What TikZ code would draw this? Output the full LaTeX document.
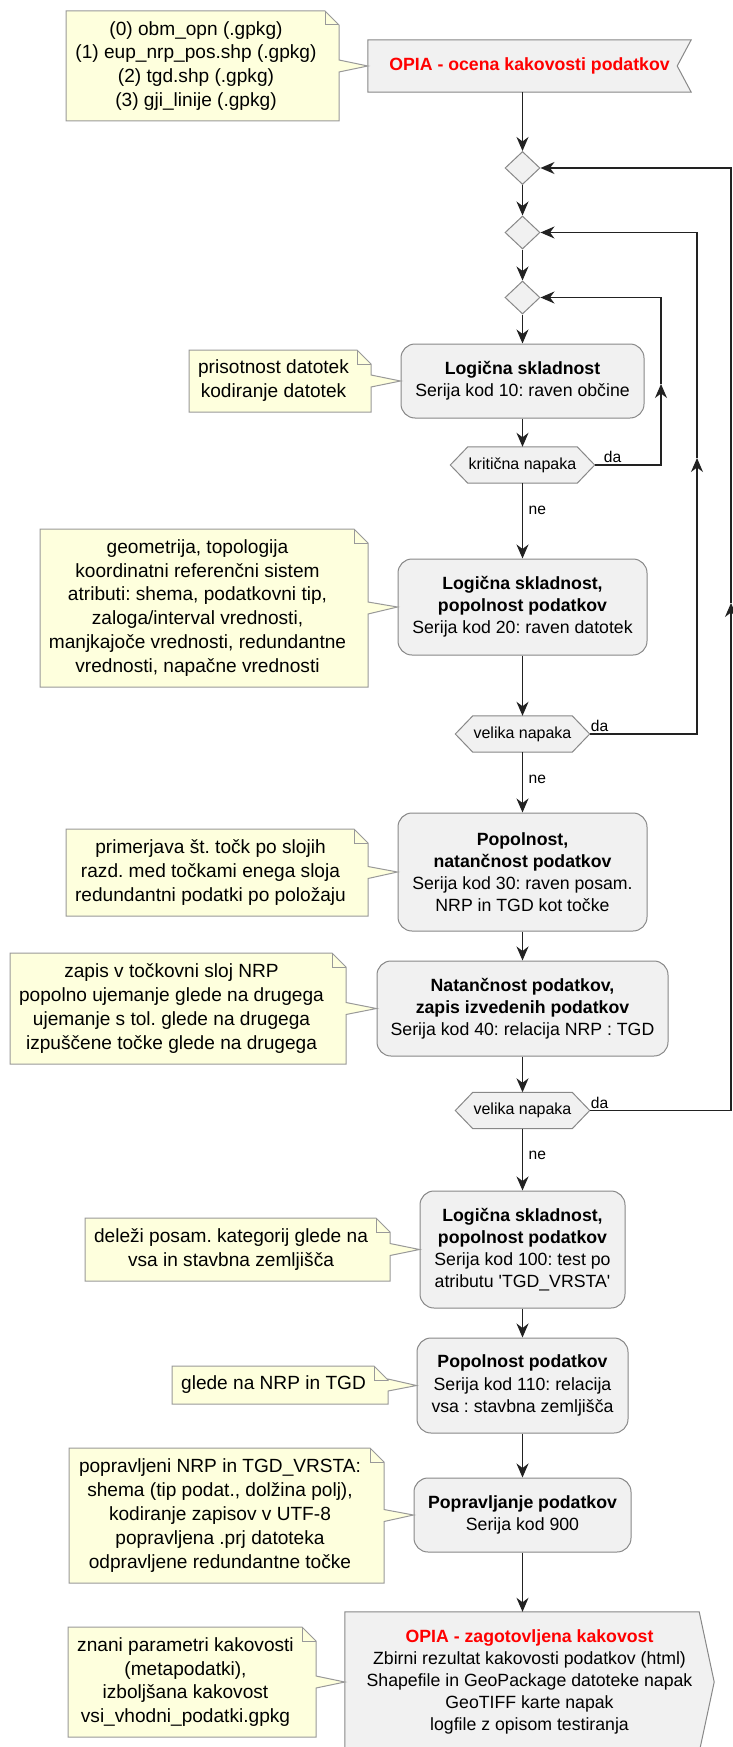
\documentclass[tikz,border=0pt]{standalone}
\usepackage{fontspec}
\setmainfont{Liberation Sans}
\usetikzlibrary{arrows.meta,shapes.geometric,backgrounds}
\frenchspacing
\definecolor{boxfill}{HTML}{F1F1F1}
\definecolor{boxline}{HTML}{888888}
\definecolor{notefill}{HTML}{FEFFDD}
\definecolor{noteline}{HTML}{999999}
\definecolor{flowc}{HTML}{222222}
\definecolor{titlered}{HTML}{FF0000}
\newcommand\fntbox{\fontsize{17.7}{22.2}\selectfont}
\newcommand\fntnote{\fontsize{19.1}{23.9}\selectfont}
\newcommand\fnthex{\fontsize{16}{19}\selectfont}
\newcommand\fntlab{\fontsize{15.6}{18}\selectfont}
\newcommand\notebox[7]{%
  \pgfmathsetmacro\ncy{(#3+#5)/2}%
  \filldraw[notestyle] (#2,#3) -- (#4-14,#3) -- (#4,#3+14) -- (#4,\ncy-6) -- (#6.west) -- (#4,\ncy+6) -- (#4,#5) -- (#2,#5) -- cycle;
  \draw[notestyle,fill=none] (#4-14,#3) -- (#4-14,#3+14) -- (#4,#3+14);
  \node[notetext] (#1) at ({(#2+#4)/2-6.5},\ncy) {#7};}
\newcommand\hexoutline[1]{%
  \filldraw[shapeline] (#1.west) -- ([xshift=17.5pt]#1.north west) -- ([xshift=-17.5pt]#1.north east) -- (#1.east) -- ([xshift=-17.5pt]#1.south east) -- ([xshift=17.5pt]#1.south west) -- cycle;}
\begin{document}
\begin{tikzpicture}[x=1pt,y=-1pt,
  shapeline/.style={draw=boxline, fill=boxfill, line width=1pt},
  notestyle/.style={draw=noteline, fill=notefill, line width=1pt},
  notetext/.style={align=center, font=\fntnote, inner sep=0pt},
  actbox/.style={draw=boxline, fill=boxfill, line width=1pt, rounded corners=14pt, align=center, font=\fntbox, inner sep=0pt},
  mergedia/.style={diamond, draw=boxline, fill=boxfill, line width=1pt, minimum width=35pt, minimum height=33pt, inner sep=0pt},
  hexnode/.style={font=\fnthex, inner sep=0pt, minimum height=36pt},
  bannernode/.style={align=center, font=\fntbox, inner sep=0pt},
  lab/.style={font=\fntlab, inner sep=0pt},
  flow/.style={draw=flowc, line width=1.3pt, -{Stealth[length=14pt,width=12pt,inset=4.5pt]}}]
\useasboundingbox (0,0) rectangle (733,1747);
\clip (0,0) rectangle (733,1747);
\begin{pgfonlayer}{background}
\fill[white] (0,0) rectangle (733,1747);
\end{pgfonlayer}

% start banner
\node[bannernode, minimum width=323pt, minimum height=52pt] (start) at (529.5,66) {\color{titlered}\textbf{OPIA - ocena kakovosti podatkov}};

% merge diamonds
\node[mergedia] (d1) at (522.5,168) {};
\node[mergedia] (d2) at (522.5,232.5) {};
\node[mergedia] (d3) at (522.5,297.5) {};

% activities and tests
\node[actbox, minimum width=243pt, minimum height=74pt] (b1) at (522.5,381) {\textbf{Logična skladnost}\\Serija kod 10: raven občine};
\node[hexnode, minimum width=144pt] (h1) at (522.5,465) {kritična napaka};
\node[actbox, minimum width=249pt, minimum height=96pt] (b2) at (522.5,607) {\textbf{Logična skladnost,}\\\textbf{popolnost podatkov}\\Serija kod 20: raven datotek};
\node[hexnode, minimum width=134pt] (h2) at (522.5,734) {velika napaka};
\node[actbox, minimum width=249pt, minimum height=118pt] (b3) at (522.5,872) {\textbf{Popolnost,}\\\textbf{natančnost podatkov}\\Serija kod 30: raven posam.\\NRP in TGD kot točke};
\node[actbox, minimum width=291pt, minimum height=95pt] (b4) at (522.5,1008.5) {\textbf{Natančnost podatkov,}\\\textbf{zapis izvedenih podatkov}\\Serija kod 40: relacija NRP : TGD};
\node[hexnode, minimum width=134pt] (h3) at (522.5,1110.5) {velika napaka};
\node[actbox, minimum width=205pt, minimum height=117pt] (b5) at (522.5,1249.5) {\textbf{Logična skladnost,}\\\textbf{popolnost podatkov}\\Serija kod 100: test po\\atributu \textquotesingle TGD\_VRSTA\textquotesingle};
\node[actbox, minimum width=211pt, minimum height=95pt] (b6) at (522.5,1385.5) {\textbf{Popolnost podatkov}\\Serija kod 110: relacija\\vsa : stavbna zemljišča};
\node[actbox, minimum width=217pt, minimum height=74pt] (b7) at (522.5,1515) {\textbf{Popravljanje podatkov}\\Serija kod 900};

% end banner
\node[bannernode, minimum width=369pt, minimum height=140pt] (final) at (529.5,1682) {{\color{titlered}\textbf{OPIA - zagotovljena kakovost}}\\Zbirni rezultat kakovosti podatkov (html)\\Shapefile in GeoPackage datoteke napak\\GeoTIFF karte napak\\logfile z opisom testiranja};

\begin{pgfonlayer}{background}
\filldraw[shapeline] (start.north west) -- (start.north east) -- ([xshift=-14pt]start.east) -- (start.south east) -- (start.south west) -- cycle;
\filldraw[shapeline] (final.north west) -- ([xshift=-15pt]final.north east) -- (final.east) -- ([xshift=-15pt]final.south east) -- (final.south west) -- cycle;
\hexoutline{h1}
\hexoutline{h2}
\hexoutline{h3}
\end{pgfonlayer}

% main flow
\draw[flow] (d1 |- start.south) -- (d1.north);
\draw[flow] (d1.south) -- (d2.north);
\draw[flow] (d2.south) -- (d3.north);
\draw[flow] (d3.south) -- (b1.north);
\draw[flow] (b1.south) -- (h1.north);
\draw[flow] (h1.south) -- (b2.north);
\draw[flow] (b2.south) -- (h2.north);
\draw[flow] (h2.south) -- (b3.north);
\draw[flow] (b3.south) -- (b4.north);
\draw[flow] (b4.south) -- (h3.north);
\draw[flow] (h3.south) -- (b5.north);
\draw[flow] (b5.south) -- (b6.north);
\draw[flow] (b6.south) -- (b7.north);
\draw[flow] (b7.south) -- (b7.south |- final.north);

% loops back
\coordinate (r1) at (661,384);
\coordinate (r2) at (697,458);
\coordinate (r3) at (731,603);
\draw[flow] (h1.east) -- (h1.east -| r1) -- (r1);
\draw[flow] (r1) -- (r1 |- d3.east) -- (d3.east);
\draw[flow] (h2.east) -- (h2.east -| r2) -- (r2);
\draw[flow] (r2) -- (r2 |- d2.east) -- (d2.east);
\draw[flow] (h3.east) -- (h3.east -| r3) -- (r3);
\draw[flow] (r3) -- (r3 |- d1.east) -- (d1.east);

% labels
\node[lab, anchor=base west] (da1) at ([xshift=9pt,yshift=2.5pt]h1.east) {da};
\node[lab, anchor=base west] (da2) at ([xshift=1pt,yshift=2.5pt]h2.east) {da};
\node[lab, anchor=base west] (da3) at ([xshift=1pt,yshift=2.5pt]h3.east) {da};
\node[lab, anchor=base west] (ne1) at ([xshift=6pt,yshift=-31pt]h1.south) {ne};
\node[lab, anchor=base west] (ne2) at ([xshift=6pt,yshift=-31pt]h2.south) {ne};
\node[lab, anchor=base west] (ne3) at ([xshift=6pt,yshift=-31pt]h3.south) {ne};

% notes
\notebox{n1}{66}{11}{339}{121}{start}{(0) obm\_opn (.gpkg)\\(1) eup\_nrp\_pos.shp (.gpkg)\\(2) tgd.shp (.gpkg)\\(3) gji\_linije (.gpkg)}
\notebox{n2}{189}{350}{371}{412}{b1}{prisotnost datotek\\kodiranje datotek}
\notebox{n3}{40}{529}{368}{687}{b2}{geometrija, topologija\\koordinatni referenčni sistem\\atributi: shema, podatkovni tip,\\zaloga/interval vrednosti,\\manjkajoče vrednosti, redundantne\\vrednosti, napačne vrednosti}
\notebox{n4}{66}{829}{368}{916}{b3}{primerjava št. točk po slojih\\razd. med točkami enega sloja\\redundantni podatki po položaju}
\notebox{n5}{10}{953}{346}{1064}{b4}{zapis v točkovni sloj NRP\\popolno ujemanje glede na drugega\\ujemanje s tol. glede na drugega\\izpuščene točke glede na drugega}
\notebox{n6}{85}{1218}{390}{1281}{b5}{deleži posam. kategorij glede na\\vsa in stavbna zemljišča}
\notebox{n7}{172}{1366}{388}{1404}{b6}{glede na NRP in TGD}
\notebox{n8}{69}{1448}{384}{1583}{b7}{popravljeni NRP in TGD\_VRSTA:\\shema (tip podat., dolžina polj),\\kodiranje zapisov v UTF-8\\popravljena .prj datoteka\\odpravljene redundantne točke}
\notebox{n9}{68}{1627}{316}{1737}{final}{znani parametri kakovosti\\(metapodatki),\\izboljšana kakovost\\vsi\_vhodni\_podatki.gpkg}
\end{tikzpicture}
\end{document}
